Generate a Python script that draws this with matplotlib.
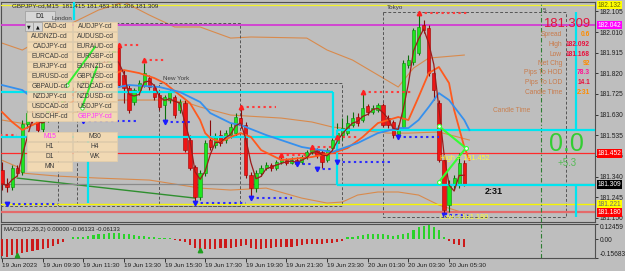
import numpy as np
import pandas as pd
import matplotlib
matplotlib.use("Agg")
import matplotlib.pyplot as plt
from matplotlib.patches import Rectangle
import matplotlib.transforms as mtrans

W, H = 625, 271
BG = "#bebebe"
plt.rcParams["font.family"] = ["Liberation Sans", "DejaVu Sans"]

# ------------------------------------------------------------------ data
header_text = "GBPJPY-cd,M15  181.415 181.483 181.306 181.309"

opens = [181.375, 181.311, 181.297, 181.384, 181.366, 181.587, 181.637, 181.605, 181.564, 181.610,
         181.651, 181.674, 181.660, 181.706, 181.743, 181.720, 181.771, 181.807, 181.789, 181.835,
         181.872, 181.853, 181.904, 181.936, 181.812, 181.752, 181.688, 181.734, 181.766, 181.798,
         181.757, 181.720, 181.674, 181.697, 181.711, 181.651, 181.683, 181.513, 181.389, 181.251,
         181.361, 181.513, 181.490, 181.536, 181.513, 181.536, 181.545, 181.614, 181.582, 181.352,
         181.292, 181.361, 181.384, 181.398, 181.384, 181.412, 181.421, 181.407, 181.421, 181.412,
         181.435, 181.458, 181.467, 181.458, 181.421, 181.476, 181.499, 181.536, 181.545, 181.582,
         181.619, 181.605, 181.669, 181.642, 181.651, 181.674, 181.614, 181.596, 181.541, 181.573,
         181.858, 181.872, 181.913, 182.042, 182.028, 181.821, 181.683, 181.421, 181.214, 181.306,
         181.306, 181.407]
highs = [181.412, 181.338, 181.398, 181.398, 181.605, 181.651, 181.660, 181.619, 181.628, 181.669,
         181.697, 181.697, 181.720, 181.761, 181.757, 181.789, 181.826, 181.821, 181.853, 181.890,
         181.890, 181.927, 181.950, 181.950, 181.835, 181.766, 181.752, 181.789, 181.867, 181.812,
         181.771, 181.734, 181.720, 181.743, 181.720, 181.702, 181.697, 181.536, 181.398, 181.375,
         181.513, 181.605, 181.545, 181.559, 181.559, 181.591, 181.637, 181.665, 181.596, 181.366,
         181.375, 181.398, 181.412, 181.407, 181.421, 181.444, 181.430, 181.435, 181.435, 181.444,
         181.467, 181.481, 181.476, 181.467, 181.476, 181.522, 181.591, 181.614, 181.628, 181.642,
         181.637, 181.734, 181.679, 181.674, 181.683, 181.683, 181.628, 181.605, 181.582, 181.881,
         181.904, 182.028, 182.092, 182.065, 182.042, 181.835, 181.697, 181.444, 181.329, 181.352,
         181.452, 181.421]
lows = [181.283, 181.274, 181.283, 181.347, 181.352, 181.568, 181.591, 181.545, 181.550, 181.596,
        181.637, 181.642, 181.651, 181.692, 181.702, 181.711, 181.757, 181.771, 181.775, 181.821,
        181.835, 181.844, 181.890, 181.757, 181.683, 181.637, 181.674, 181.720, 181.757, 181.743,
        181.697, 181.651, 181.591, 181.683, 181.614, 181.637, 181.458, 181.375, 181.228, 181.237,
        181.347, 181.467, 181.476, 181.485, 181.499, 181.522, 181.531, 181.568, 181.338, 181.251,
        181.274, 181.347, 181.375, 181.370, 181.375, 181.403, 181.398, 181.403, 181.393, 181.403,
        181.426, 181.449, 181.430, 181.384, 181.412, 181.462, 181.416, 181.513, 181.536, 181.573,
        181.577, 181.596, 181.628, 181.633, 181.642, 181.573, 181.568, 181.522, 181.527, 181.559,
        181.844, 181.858, 181.904, 182.005, 181.807, 181.697, 181.412, 181.178, 181.180, 181.283,
        181.292, 181.301]
closes = [181.311, 181.297, 181.384, 181.361, 181.587, 181.637, 181.605, 181.559, 181.610, 181.651,
          181.674, 181.660, 181.706, 181.743, 181.720, 181.771, 181.807, 181.789, 181.835, 181.872,
          181.853, 181.904, 181.936, 181.766, 181.752, 181.651, 181.743, 181.775, 181.821, 181.757,
          181.711, 181.665, 181.711, 181.734, 181.628, 181.688, 181.467, 181.384, 181.251, 181.361,
          181.499, 181.481, 181.527, 181.499, 181.545, 181.573, 181.619, 181.582, 181.352, 181.292,
          181.361, 181.384, 181.398, 181.384, 181.412, 181.421, 181.407, 181.421, 181.403, 181.435,
          181.458, 181.476, 181.444, 181.412, 181.467, 181.513, 181.545, 181.568, 181.591, 181.614,
          181.591, 181.660, 181.642, 181.660, 181.674, 181.582, 181.582, 181.536, 181.568, 181.867,
          181.881, 182.019, 182.033, 182.019, 181.821, 181.743, 181.421, 181.191, 181.306, 181.338,
          181.407, 181.309]

date_tick_bars = [0, 8, 16, 24, 32, 40, 48, 56, 64, 72, 80, 88]
date_tick_labels = ["19 Jun 2023", "19 Jun 09:30", "19 Jun 11:30", "19 Jun 13:30", "19 Jun 15:30",
                    "19 Jun 17:30", "19 Jun 19:30", "19 Jun 21:30", "19 Jun 23:30", "20 Jun 01:30",
                    "20 Jun 03:30", "20 Jun 05:30"]
price_ticks = [182.105, 182.010, 181.915, 181.820, 181.725, 181.630, 181.535, 181.440,
               181.345, 181.250, 181.155]
price_tick_labels = ["182.105", "182.010", "181.915", "181.820", "181.725", "181.630", "181.535",
                     "181.435", "181.340", "181.245", "181.150"]

# indicator lines at bar positions
blue_idx = [0, 4, 6, 11, 17, 23, 25, 31, 35, 39, 41, 45, 47, 52, 59, 65, 70, 74, 78, 80, 82, 84, 86, 88, 91, 92]
blue_val = [181.766, 181.743, 181.706, 181.697, 181.720, 181.757, 181.766, 181.757, 181.734, 181.688,
            181.637, 181.591, 181.582, 181.536, 181.481, 181.458, 181.499, 181.545, 181.568, 181.568,
            181.605, 181.665, 181.729, 181.697, 181.605, 181.559]
orange_idx = [0, 2, 4, 6, 11, 17, 23, 24, 27, 30, 32, 35, 37, 39, 40, 41, 43, 45, 47, 49, 51, 55,
              61, 65, 68, 71, 74, 78, 80, 82, 84, 86, 88, 89, 91, 92]
orange_val = [181.642, 181.596, 181.559, 181.582, 181.642, 181.743, 181.826, 181.835, 181.821, 181.798,
              181.775, 181.720, 181.683, 181.605, 181.545, 181.522, 181.504, 181.527, 181.545, 181.527,
              181.467, 181.421, 181.435, 181.453, 181.476, 181.527, 181.591, 181.619, 181.605, 181.711,
              181.821, 181.849, 181.775, 181.651, 181.481, 181.421]
upper_idx = [0, 4, 11, 19, 24, 29, 34, 39, 45, 49, 60, 64, 69, 73, 78, 81, 84, 91]
upper_val = [181.959, 181.927, 182.019, 182.111, 182.148, 182.088, 182.033, 182.033, 181.982, 181.987,
             181.982, 181.927, 181.881, 181.826, 181.757, 181.844, 181.890, 181.904]
middle_idx = [0, 6, 11, 19, 23, 31, 36, 39, 45, 55, 61, 65, 70, 76, 80, 86, 92]
middle_val = [181.605, 181.582, 181.614, 181.674, 181.697, 181.697, 181.688, 181.665, 181.628, 181.614,
              181.596, 181.573, 181.559, 181.545, 181.545, 181.550, 181.513]
lower_idx = [0, 3, 4, 11, 19, 29, 39, 45, 52, 59, 64, 67, 70, 74, 78, 82, 86, 91]
lower_val = [181.420, 181.390, 181.361, 181.347, 181.338, 181.329, 181.292, 181.283, 181.292, 181.246,
             181.223, 181.228, 181.260, 181.274, 181.274, 181.260, 181.214, 181.177]
trend_idx = [3, 38]
trend_val = [181.338, 181.246]

level_top_yellow = 182.134
level_magenta = 182.042
level_red = 181.452
level_bid = 181.309
level_yellow = 181.218
level_low = 181.180
axis_tags = [(level_top_yellow, "182.132", "#ffff00", "#6a6a00"),
             (level_magenta, "182.042", "#ff00ff", "white"),
             (level_red, "181.452", "#ff0000", "white"),
             (level_bid, "181.309", "#000000", "white"),
             (level_yellow, "181.221", "#ffff00", "#6a6a6a"),
             (level_low, "181.180", "#ff0000", "white")]

up_frac_idx = [23, 28, 47, 55, 61, 66, 71, 82]
up_frac_val = [181.950, 181.881, 181.665, 181.444, 181.481, 181.527, 181.734, 182.097]
up_frac_end = [27, 32, 54, 60, 65, 70, 81, 92]
dn_frac_idx = [1, 16, 32, 38, 49, 58, 62, 66, 78, 87]
dn_frac_val = [181.218, 181.600, 181.596, 181.223, 181.246, 181.403, 181.380, 181.412, 181.527, 181.168]
dn_frac_end = [11, 27, 37, 48, 57, 61, 65, 77, 86, 92]

zig_idx = [86, 91.3, 86]
zig_val = [181.577, 181.476, 181.320]
panel_zig = [([12.8, 18.3], [181.766, 181.941]), ([15.7, 18.7], [181.660, 181.849])]

cyan_segs = [((-0.3, 181.734), (65.2, 181.734)), ((65.2, 181.734), (65.2, 181.527)),
             ((-0.3, 181.527), (66.0, 181.527)), ((66.0, 181.559), (66.0, 181.306)),
             ((66.0, 181.559), (117.0, 181.559)), ((66.0, 181.306), (117.0, 181.306)),
             ((113.0, 182.102), (113.0, 181.559)), ((113.0, 181.306), (113.0, 181.159)),
             ((16.9, 181.527), (16.9, 181.223)), ((14.2, 182.148), (14.2, 182.065))]
sessions = [(14.8, 46.9, 182.051, 181.209), (30.9, 66.9, 181.775, 181.209), (75.0, 111.0, 182.102, 181.159)]
shift_line = 106.1

macd_vals = [-0.142, -0.150, -0.135, -0.126, -0.117, -0.105, -0.096, -0.087, -0.081, -0.075,
             -0.060, -0.045, -0.021, -0.003, 0.015, 0.018, 0.021, 0.026, 0.032, 0.038,
             0.044, 0.047, 0.050, 0.053, 0.044, 0.038, 0.032, 0.026, 0.023, 0.018,
             0.015, 0.012, 0.009, 0.006, -0.009, -0.015, -0.021, -0.050, -0.073, -0.085,
             -0.085, -0.079, -0.079, -0.073, -0.073, -0.073, -0.064, -0.056, -0.050, -0.073,
             -0.079, -0.079, -0.073, -0.070, -0.067, -0.064, -0.064, -0.062, -0.056, -0.050,
             -0.044, -0.044, -0.041, -0.038, -0.035, -0.029, -0.021, -0.012, 0.015, 0.018,
             0.023, 0.032, 0.038, 0.038, 0.038, 0.038, 0.032, 0.029, 0.032, 0.044,
             0.053, 0.073, 0.097, 0.111, 0.118, 0.097, 0.073, 0.015, -0.015, -0.044,
             -0.050, -0.064]
macd_arrow_idx = [3, 39]
macd_arrow_val = [-0.136, -0.092]
macd_max, macd_min = 0.12459, -0.15683
macd_title = "MACD(12,26,2) 0.00000 -0.06133 -0.06133"

info_labels = ["Spread", "High", "Low", "Net Chg", "Pips To HOD", "Pips To LOD", "Candle Time"]
info_values = ["0.6", "182.092", "181.168", "92", "78.3", "14.1", "2:31"]
info_colors = ["#ff8c00", "#e8103c", "#e8103c", "#ff8c00", "#ff1493", "#e8103c", "#ff8c00"]
pair_buttons = [("CAD-cd", "AUDJPY-cd"), ("AUDNZD-cd", "AUDUSD-cd"), ("CADJPY-cd", "EURAUD-cd"),
                ("EURCAD-cd", "EURGBP-cd"), ("EURJPY-cd", "EURNZD-cd"), ("EURUSD-cd", "GBPUSD-cd"),
                ("GBPAUD-cd", "NZDCAD-cd"), ("NZDJPY-cd", "NZDUSD-cd"), ("USDCAD-cd", "USDJPY-cd"),
                ("USDCHF-cd", "GBPJPY-cd")]
tf_buttons = [("M15", "M30"), ("H1", "H4"), ("D1", "WK"), ("MN", None)]
active_buttons = ["GBPJPY-cd", "M15"]

# ------------------------------------------------------------------ figure
fig = plt.figure(figsize=(W / 100, H / 100), dpi=100, facecolor=BG)


def fx(x):
    return x / W


def fy(y):
    return 1 - y / H


ax = fig.add_axes([fx(1), fy(222), (595 - 1) / W, (222 - 2) / H], facecolor=BG)
ax2 = fig.add_axes([fx(1), fy(258), (595 - 1) / W, (258 - 224) / H], facecolor=BG)

idx = np.arange(len(closes))
o = np.array(opens)
hh = np.array(highs)
ll = np.array(lows)
c = np.array(closes)
up = c >= o

# thin bands
for xi, yv in [(upper_idx, upper_val), (middle_idx, middle_val), (lower_idx, lower_val)]:
    ax.plot(xi, yv, color="#d98a4c", lw=0.8, zorder=2)
ax.plot(trend_idx, trend_val, color="#2f8f2f", lw=1.0, zorder=2)

# session boxes
for x0, x1, top, bot in sessions:
    ax.plot([x0, x1, x1, x0, x0], [top, top, bot, bot, top], color="#555555", lw=0.7,
            ls=(0, (3, 2)), zorder=2)
ax.plot([11.0, 11.0], [182.051, 181.209], color="#555555", lw=0.7, ls=(0, (3, 2)), zorder=2)
ax.plot([-0.3, 14.8], [181.209, 181.209], color="#555555", lw=0.7, ls=(0, (3, 2)), zorder=2)

# horizontal levels
ax.axhline(level_top_yellow, color="#f2f22a", lw=0.9, zorder=3)
ax.axhline(level_magenta, color="#d23cd2", lw=1.3, zorder=3)
ax.axhline(level_red, color="#ff2a2a", lw=0.9, zorder=3)
ax.axhline(level_bid, color="#8a8a8a", lw=0.9, zorder=3)
ax.axhline(level_yellow, color="#f5f500", lw=1.0, zorder=3)
ax.axhline(level_low, color="#e46a6a", lw=1.6, zorder=3)

# candles
body_col = np.where(up, "#1ee61e", "#f01414")
edge_col = np.where(up, "#0c8a0c", "#a00000")
wick_col = np.where(up, "#0c6e0c", "#8a0a0a")
ax.vlines(idx, ll, hh, colors=list(wick_col), lw=0.8, zorder=4)
ax.bar(idx, np.maximum(np.abs(c - o), 0.002), bottom=np.minimum(o, c), width=0.64,
       color=list(body_col), edgecolor=list(edge_col), linewidth=0.4, zorder=5)

# cyan lines
for (x0, y0), (x1, y1) in cyan_segs:
    ax.plot([x0, x1], [y0, y1], color="#00e5f0", lw=1.6, zorder=5.5, solid_capstyle="butt")

# moving averages
ax.plot(orange_idx, orange_val, color="#ff5a1e", lw=1.3, zorder=6)
ax.plot(blue_idx, blue_val, color="#3590ee", lw=1.3, zorder=6)
ma3 = pd.Series(c).rolling(3, min_periods=1).mean()
ax.plot(idx, ma3, color="#9b1b1b", lw=0.9, zorder=6.5)

# fractals
for i0, v, i1 in zip(up_frac_idx, up_frac_val, up_frac_end):
    ax.plot([i0, i1], [v, v], color="#ff3b3b", lw=1.5, ls=(0, (1.1, 1.6)), zorder=7)
ax.plot([-0.3, 3], [181.536, 181.536], color="#ff3b3b", lw=1.5, ls=(0, (1.1, 1.6)), zorder=7)
ax.plot(up_frac_idx, up_frac_val, "^", color="#ff2020", ms=3.2, zorder=7.5)
for i0, v, i1 in zip(dn_frac_idx, dn_frac_val, dn_frac_end):
    ax.plot([i0, i1], [v, v], color="#2b2bff", lw=1.5, ls=(0, (1.1, 1.6)), zorder=7)
ax.plot(dn_frac_idx, dn_frac_val, "v", color="#1a1aff", ms=3.2, zorder=7.5)

# zigzag
ax.plot(zig_idx, zig_val, color="#33ff33", lw=1.5, zorder=8)
ax.plot(zig_idx, zig_val, "o", mfc="white", mec="#33ff33", ms=2.8, mew=0.8, zorder=8.5)

# shift line
ax.axvline(shift_line, color="#2e7d32", lw=0.8, ls=(0, (4, 2, 1, 2)), zorder=3)
ax2.axvline(shift_line, color="#2e7d32", lw=0.8, ls=(0, (4, 2, 1, 2)), zorder=3)


def prect(x0, y0, x1, y1, fc, ec, lw=0.5, z=10):
    r = Rectangle((fx(x0), fy(y1)), (x1 - x0) / W, (y1 - y0) / H, transform=fig.transFigure,
                  fc=fc, ec=ec, lw=lw, zorder=z, clip_on=False)
    ax.add_patch(r)


def ptext(x, y, s, **kw):
    kw.setdefault("zorder", 12)
    ax.text(fx(x), fy(y), s, transform=fig.transFigure, clip_on=False, **kw)


# button panel
BTN = "#f1d9b3"
BTN_E = "#e6cfa8"
for k, (a, b) in enumerate(pair_buttons):
    y0 = 22 + 10 * k
    for (x0, x1), name in [((27, 72), a), ((73, 117), b)]:
        prect(x0, y0, x1, y0 + 9, BTN, BTN_E)
        col = "#ff33ff" if name in active_buttons else "#3a3a3a"
        if k == 0 and x0 == 27:
            ptext(43.5, y0 + 4.8, name, ha="left", va="center", fontsize=4.8, color=col)
        else:
            ptext((x0 + x1) / 2, y0 + 4.8, name, ha="center", va="center", fontsize=4.8, color=col)
for k, (a, b) in enumerate(tf_buttons):
    y0 = 132 + 10 * k
    for (x0, x1), name in [((27, 72), a), ((73, 117), b)]:
        if name is None:
            continue
        prect(x0, y0, x1, y0 + 9, BTN, BTN_E)
        col = "#ff33ff" if name in active_buttons else "#3a3a3a"
        ptext((x0 + x1) / 2, y0 + 4.8, name, ha="center", va="center", fontsize=4.8, color=col)
prect(25, 11, 55, 21, "#d6d6d6", "#9a9a9a")
ptext(40, 16.2, "D1", ha="center", va="center", fontsize=5, color="#202020")
prect(25, 22, 33, 31, "#d6d6d6", "#9a9a9a", z=10.5)
prect(33, 22, 42, 31, "#d6d6d6", "#9a9a9a", z=10.5)
ptext(29, 26.7, "\u25bc", ha="center", va="center", fontsize=3.4, color="#101010",
      family=["DejaVu Sans"])
ptext(37.5, 26.7, "\u25b2", ha="center", va="center", fontsize=3.4, color="#101010",
      family=["DejaVu Sans"])

for xs, ys in panel_zig:
    ax.plot(xs, ys, color="#33ee33", lw=1.4, zorder=11)
    ax.plot(xs[0], ys[0], "o", mfc="white", mec="#33ee33", ms=2.4, mew=0.6, zorder=11.5)

# texts
ptext(12, 6, header_text, ha="left", va="center", fontsize=4.5, color="#202020")
ptext(52, 18, "London", ha="left", va="center", fontsize=4.5, color="#3c3c3c")
ptext(163, 78, "New York", ha="left", va="center", fontsize=4.5, color="#3c3c3c")
ptext(387, 7, "Tokyo", ha="left", va="center", fontsize=4.5, color="#3c3c3c")
ptext(543, 10, "5", ha="left", va="center", fontsize=4.5, color="#3c3c3c")

ax.text(86.3, 181.430, "High = 181.452", ha="left", va="center", fontsize=5.2, color="#ffff30", zorder=12)
ax.text(86.3, 181.157, "Low = 181.180", ha="left", va="center", fontsize=5.2, color="#ffff30", zorder=12)
ptext(494, 191, "2:31", ha="center", va="center", fontsize=6.5, fontweight="bold", color="#101010")
ptext(566, 144, "0.0", ha="center", va="center", fontsize=18, color="#33cc33")
ptext(567, 163, "+5.3", ha="center", va="center", fontsize=7, color="#55bb55")
ptext(512, 111, "Candle Time", ha="center", va="center", fontsize=4.8, color="#c98050")

ptext(590, 24, "181.309", ha="right", va="center", fontsize=9.4, color="#e0143c")
for k, (lab, val, col) in enumerate(zip(info_labels, info_values, info_colors)):
    yy = 35 + 9.5 * k
    ptext(562, yy, lab, ha="right", va="center", fontsize=4.8, color="#c97a4a")
    ptext(590, yy, val, ha="right", va="center", fontsize=4.8, color=col, fontweight="bold")

# axis tags
tr = mtrans.blended_transform_factory(ax.transAxes, ax.transData)
for price, txt, fc, tc in axis_tags:
    ax.text(1.004, price, txt, transform=tr, ha="left", va="center", fontsize=4.8, color=tc,
            bbox=dict(boxstyle="square,pad=0.12", fc=fc, ec="none"), zorder=20, clip_on=False)

# MACD panel
macd = np.array(macd_vals)
ax2.bar(idx, macd, width=0.42, color=list(np.where(macd >= 0, "#2bd22b", "#cc1a1a")), zorder=3)
ax2.plot(macd_arrow_idx, macd_arrow_val, "^", color="#1f9f1f", ms=3.2, zorder=4)
ax2.text(0.005, 0.85, macd_title, transform=ax2.transAxes, ha="left", va="center",
         fontsize=4.3, color="#202020")

# axes styling
for a in (ax, ax2):
    a.set_xlim(-0.197, 116.73)
    for s in a.spines.values():
        s.set_color("#505050")
        s.set_linewidth(0.8)
    a.yaxis.tick_right()
ax.set_ylim(181.136, 182.148)
ax2.set_ylim(macd_min, macd_max)
ax.set_xticks([])
ax.set_yticks(price_ticks)
ax.set_yticklabels(price_tick_labels)
ax.tick_params(axis="y", length=2, width=0.6, pad=1.2, labelsize=4.8, colors="#202020")

ax2.set_yticks([macd_max, 0.0, macd_min])
ax2.set_yticklabels(["0.12459", "0.00", "-0.15683"])
ax2.tick_params(axis="y", length=2, width=0.6, pad=1.2, labelsize=4.8, colors="#202020")
ylabs = ax2.get_yticklabels()
ylabs[0].set_va("top")
ylabs[2].set_va("bottom")
ax2.set_xticks(date_tick_bars)
ax2.set_xticklabels(date_tick_labels)
for lab in ax2.get_xticklabels():
    lab.set_ha("left")
ax2.tick_params(axis="x", length=3, width=0.6, pad=0.8, labelsize=4.6, colors="#202020")

fig.savefig("out.png", dpi=100, facecolor=BG)
